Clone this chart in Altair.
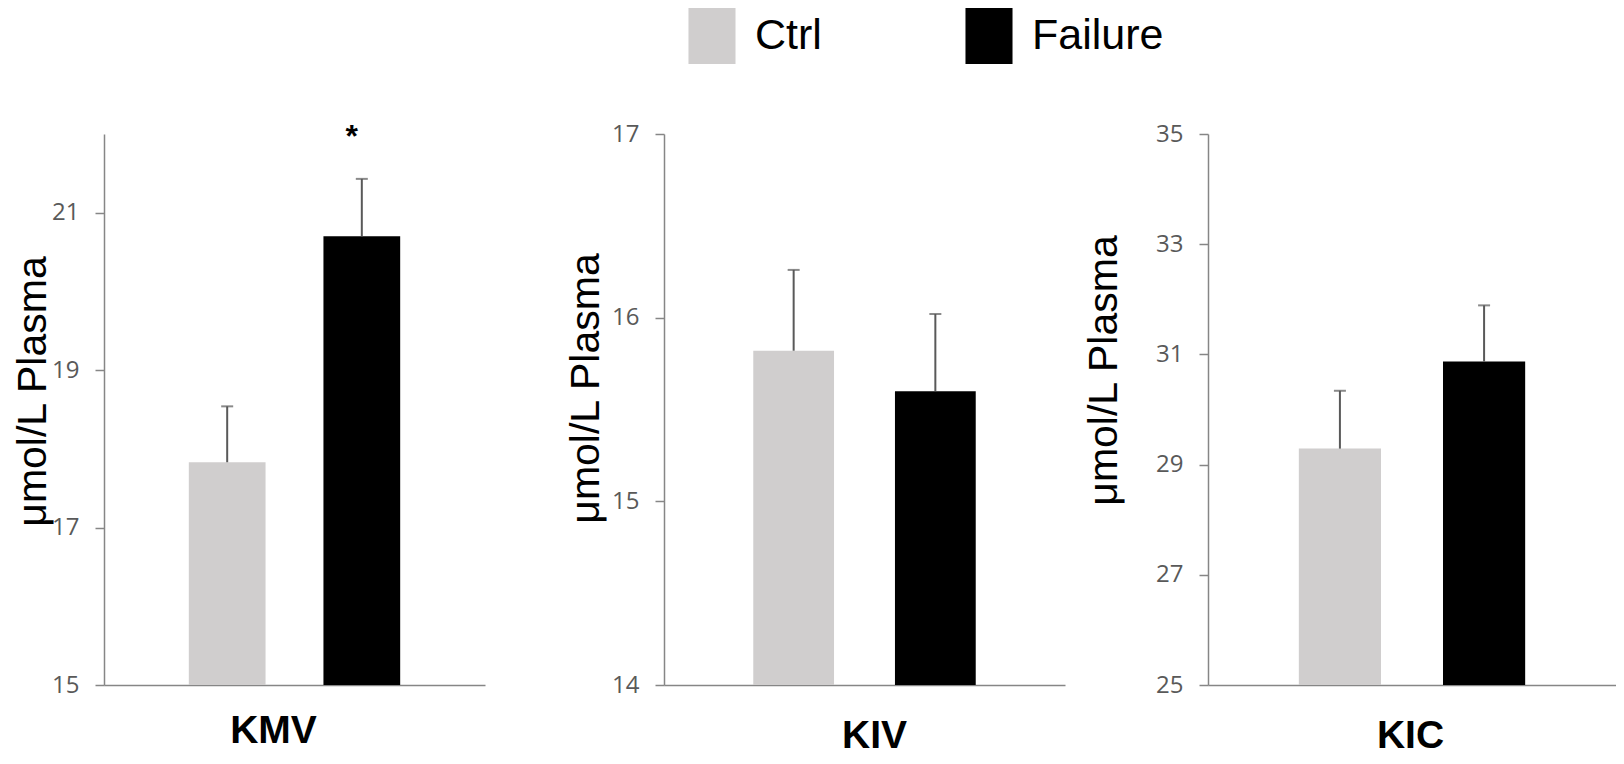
import altair as alt
import pandas as pd

groups = ["Ctrl", "Failure"]
bar_colors = ["#d0cece", "#000000"]
y_title = "μmol/L Plasma"

kmv_mean = [17.83, 20.70]
kmv_err = [18.54, 21.43]
kmv_stars = ["", "*"]
kmv_domain = [15, 22]
kmv_ticks = [15, 17, 19, 21]

kiv_mean = [15.82, 15.60]
kiv_err = [16.26, 16.02]
kiv_stars = ["", ""]
kiv_domain = [14, 17]
kiv_ticks = [14, 15, 16, 17]

kic_mean = [29.29, 30.87]
kic_err = [30.34, 31.89]
kic_stars = ["", ""]
kic_domain = [25, 35]
kic_ticks = [25, 27, 29, 31, 33, 35]

AXIS_GRAY = "#868686"
ERR_GRAY = "#595959"
H = 551

legend = alt.Legend(
    title=None,
    orient="none",
    legendX=580,
    legendY=-126,
    direction="horizontal",
    columns=2,
    columnPadding=139,
    symbolType="M-0.84,-1H0.84V1H-0.84Z",
    symbolSize=3136,
    symbolStrokeWidth=0,
    labelFont="Liberation Sans",
    labelFontSize=43,
    labelColor="#000000",
    labelOffset=15,
    labelLimit=400,
)


def panel(name, means, errs, stars, domain, ticks, width, ytx, yty, xtx, xty):
    df = pd.DataFrame({
        "group": groups,
        "mean": means,
        "err": errs,
        "base": [domain[0]] * len(groups),
        "star": stars,
    })
    xenc = alt.X(
        "group:N",
        scale=alt.Scale(domain=groups, paddingInner=0.43, paddingOuter=0.63),
        axis=alt.Axis(
            title=name,
            labels=False,
            ticks=False,
            domainColor=AXIS_GRAY,
            domainWidth=1.5,
            titleX=xtx,
            titleY=xty,
            titleAlign="center",
            titleBaseline="alphabetic",
            titleFont="Liberation Sans",
            titleFontSize=39,
            titleFontWeight="bold",
            titleColor="#000000",
        ),
    )
    yscale = alt.Scale(domain=domain, zero=False, nice=False)
    yaxis = alt.Axis(
        title=y_title,
        values=ticks,
        format="d",
        grid=False,
        domainColor=AXIS_GRAY,
        domainWidth=1.5,
        tickColor=AXIS_GRAY,
        tickWidth=1.5,
        tickSize=9,
        labelFont="Open Sans",
        labelFontSize=24,
        labelColor="#595959",
        labelPadding=16,
        titleX=ytx,
        titleY=yty,
        titleAngle=270,
        titleAlign="center",
        titleBaseline="alphabetic",
        titleFont="Liberation Sans",
        titleFontSize=41,
        titleFontWeight="normal",
        titleColor="#000000",
    )
    base = alt.Chart(df)
    bars = base.mark_bar().encode(
        x=xenc,
        y=alt.Y("mean:Q", scale=yscale, axis=yaxis),
        y2="base:Q",
        color=alt.Color("group:N", scale=alt.Scale(domain=groups, range=bar_colors), legend=legend),
    )
    rule = base.mark_rule(color=ERR_GRAY, strokeWidth=2).encode(
        x=alt.X("group:N"), y="mean:Q", y2="err:Q"
    )
    cap = base.mark_tick(color=ERR_GRAY, thickness=2, size=12).encode(
        x=alt.X("group:N"), y="err:Q"
    )
    star = base.mark_text(
        font="Liberation Sans", fontSize=32, fontWeight="bold", color="#000000",
        baseline="alphabetic", dx=-10, dy=-32,
    ).encode(x=alt.X("group:N"), y="err:Q", text="star:N")
    return alt.layer(bars, rule, cap, star).properties(width=width, height=H)


def spacer(w):
    return alt.Chart(pd.DataFrame({"v": [0]})).mark_point(opacity=0).encode(
        x=alt.value(0), y=alt.value(0)
    ).properties(width=w, height=H)


p1 = panel("KMV", kmv_mean, kmv_err, kmv_stars, kmv_domain, kmv_ticks, 381, -59, 257, 169, 57)
p2 = panel("KIV", kiv_mean, kiv_err, kiv_stars, kiv_domain, kiv_ticks, 401, -66, 254, 210, 62)
p3 = panel("KIC", kic_mean, kic_err, kic_stars, kic_domain, kic_ticks, 408, -92, 236, 202, 62)

chart = alt.hconcat(p1, spacer(179), p2, spacer(143), p3, spacing=0, bounds="flush").properties(
    padding={"left": 4, "top": 0, "right": 0, "bottom": 0},
    background="white",
).configure_view(stroke=None)

chart.save("out.html", embed_options={"renderer": "svg", "actions": False})
